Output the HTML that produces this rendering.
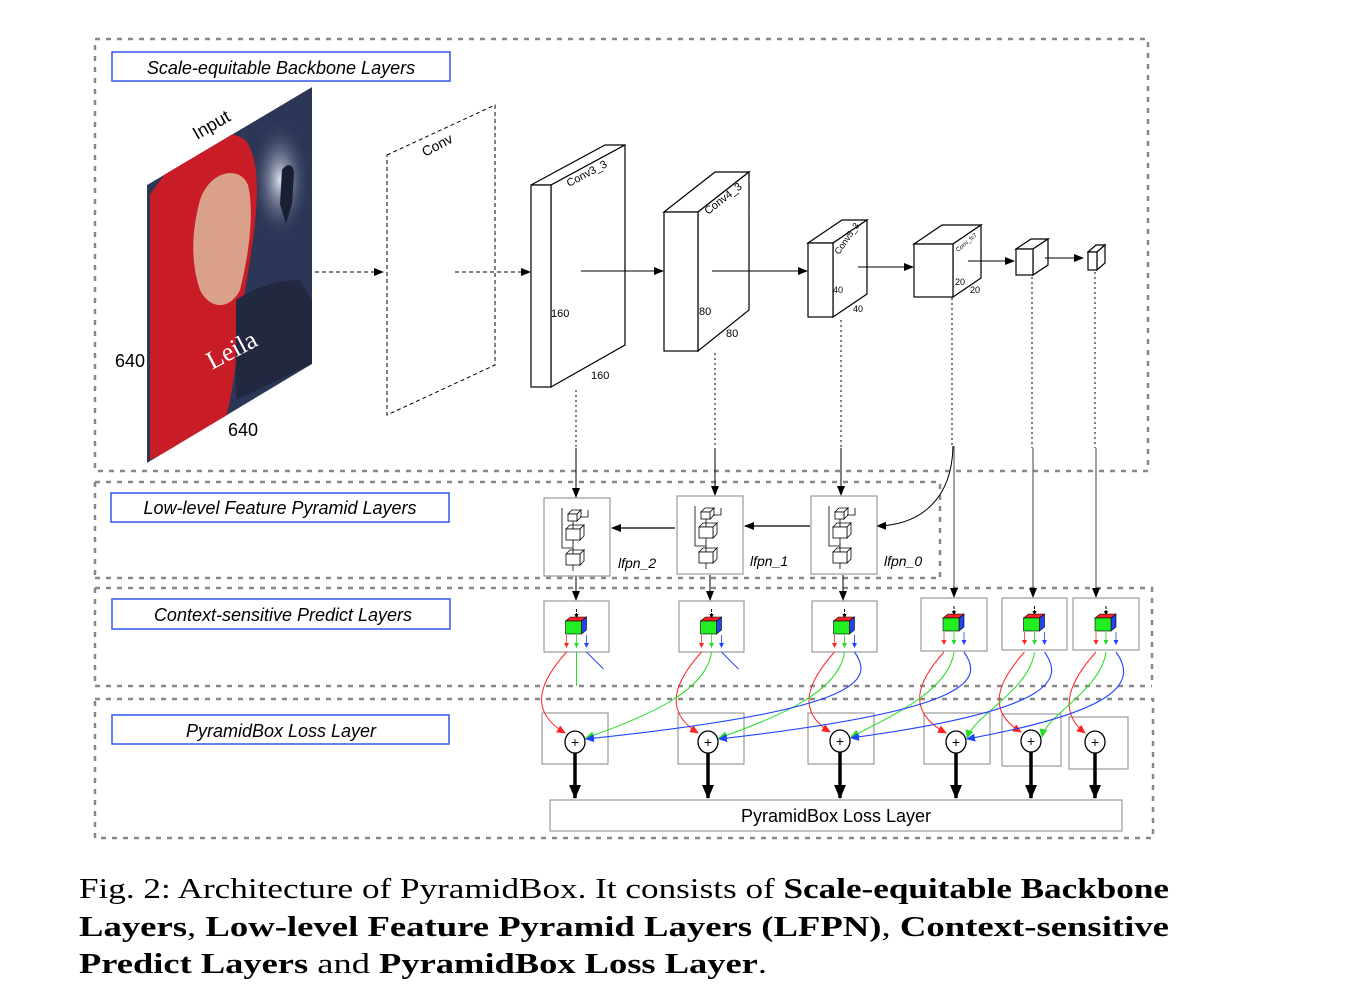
<!DOCTYPE html>
<html><head><meta charset="utf-8"><style>
html,body{margin:0;padding:0;background:#fff;}
svg{display:block}
</style></head><body>
<svg id="s" width="1356" height="996" viewBox="0 0 1356 996" xmlns="http://www.w3.org/2000/svg" font-family="Liberation Sans, sans-serif">
<defs>
<clipPath id="pc"><polygon points="147,185 312,87 312,364 147,463"/></clipPath>
<marker id="a" markerWidth="10" markerHeight="8" refX="9" refY="4" orient="auto" markerUnits="userSpaceOnUse"><path d="M0,0 L10,4 L0,8z" fill="#000"/></marker>
<marker id="ab" markerWidth="14" markerHeight="12" refX="13" refY="6" orient="auto" markerUnits="userSpaceOnUse"><path d="M0,0 L14,6 L0,12z" fill="#000"/></marker>
<marker id="as" markerWidth="5" markerHeight="4" refX="4" refY="2" orient="auto" markerUnits="userSpaceOnUse"><path d="M0,0 L5,2 L0,4z" fill="#000"/></marker>
<marker id="ar" markerWidth="9" markerHeight="8" refX="8" refY="4" orient="auto" markerUnits="userSpaceOnUse"><path d="M0,0 L9,4 L0,8z" fill="#f22"/></marker>
<marker id="ag" markerWidth="9" markerHeight="8" refX="8" refY="4" orient="auto" markerUnits="userSpaceOnUse"><path d="M0,0 L9,4 L0,8z" fill="#2d2"/></marker>
<marker id="abl" markerWidth="9" markerHeight="8" refX="8" refY="4" orient="auto" markerUnits="userSpaceOnUse"><path d="M0,0 L9,4 L0,8z" fill="#24f"/></marker>
<marker id="sr" markerWidth="5" markerHeight="5" refX="4" refY="2.5" orient="auto" markerUnits="userSpaceOnUse"><path d="M0,0 L5,2.5 L0,5z" fill="#f22"/></marker>
<marker id="sg" markerWidth="5" markerHeight="5" refX="4" refY="2.5" orient="auto" markerUnits="userSpaceOnUse"><path d="M0,0 L5,2.5 L0,5z" fill="#2d2"/></marker>
<marker id="sb" markerWidth="5" markerHeight="5" refX="4" refY="2.5" orient="auto" markerUnits="userSpaceOnUse"><path d="M0,0 L5,2.5 L0,5z" fill="#24f"/></marker>
<radialGradient id="lt" cx="0.5" cy="0.5" r="0.5"><stop offset="0" stop-color="#dde4f0"/><stop offset="1" stop-color="#2c3656" stop-opacity="0"/></radialGradient>
</defs>
<rect width="1356" height="996" fill="#fff"/>
<g stroke="#888" stroke-width="2.5" stroke-dasharray="5,6" fill="none">
<path d="M95,39 H1148 V471 H95 Z"/>
<path d="M95,482 V578 M95,482 H940 V578"/>
<path d="M95,578 H940 M95,588 H1152 V686 M95,588 V686"/>
<path d="M95,686 H1152 M95,699 H1153 V838 H95 V699"/>
</g>
<g fill="#fff" stroke="#3355ee" stroke-width="1.5">
<rect x="112" y="52" width="338" height="29"/>
<rect x="111" y="493" width="338" height="29"/>
<rect x="112" y="599" width="338" height="30"/>
<rect x="112" y="715" width="337" height="29"/>
</g>
<g font-style="italic" font-size="18" text-anchor="middle" fill="#000">
<text x="281" y="74">Scale-equitable Backbone Layers</text>
<text x="280" y="514">Low-level Feature Pyramid Layers</text>
<text x="283" y="621">Context-sensitive Predict Layers</text>
<text x="281" y="737">PyramidBox Loss Layer</text>
</g>
<g clip-path="url(#pc)">
<polygon points="147,185 312,87 312,364 147,463" fill="#2c3656"/>
<ellipse cx="280" cy="180" rx="30" ry="60" fill="url(#lt)"/>
<path d="M282,170 c5,-8 12,-6 12,4 l-2,30 l-6,20 l-6,-20z" fill="#1a1f33"/>
<path d="M150,195 C180,150 215,120 245,140 C262,160 258,210 250,260 C245,290 240,320 236,360 C232,400 225,420 222,430 L170,450 L150,460 Z" fill="#c81c26"/>
<path d="M200,200 C210,170 240,165 248,185 C254,210 250,250 240,290 C230,310 210,310 200,290 C190,260 192,230 200,200Z" fill="#d9a18a"/>
<path d="M236,300 C250,290 275,280 300,280 L312,300 L312,364 L236,400Z" fill="#22283f"/>
<text x="0" y="0" transform="translate(212,370) rotate(-28)" font-family="Liberation Serif, serif" font-size="26" fill="#fff">Leila</text>
</g>
<text x="0" y="0" transform="translate(197,140) rotate(-30)" font-size="18">Input</text>
<text x="115" y="367" font-size="18">640</text>
<text x="228" y="436" font-size="18">640</text>
<polygon points="387,155 495,105 495,365 387,415" fill="none" stroke="#000" stroke-dasharray="4,3"/>
<text transform="translate(425,157) rotate(-28)" font-size="14">Conv</text>
<g fill="#fff" stroke="#000" stroke-width="1.2">
<polygon points="531,185 605,145 625,145 551,185"/><polygon points="551,185 625,145 625,345 551,387"/><rect x="531" y="185" width="20" height="202"/>
<polygon points="664,212 715,172 749,172 698,212"/><polygon points="698,212 749,172 749,310 698,351"/><rect x="664" y="212" width="34" height="139"/>
<polygon points="808,243 842,220 867,220 833,243"/><polygon points="833,243 867,220 867,294 833,317"/><rect x="808" y="243" width="25" height="74"/>
<polygon points="914,244 942,225 981,225 953,244"/><polygon points="953,244 981,225 981,278 953,297"/><rect x="914" y="244" width="39" height="53"/>
<polygon points="1016,249 1031,239 1048,239 1033,249"/><polygon points="1033,249 1048,239 1048,265 1033,275"/><rect x="1016" y="249" width="17" height="26"/>
<polygon points="1088,252 1096,245 1105,245 1097,252"/><polygon points="1097,252 1105,245 1105,263 1097,270"/><rect x="1088" y="252" width="9" height="18"/>
</g>
<g font-size="11">
<text transform="translate(569,187) rotate(-28)">Conv3_3</text>
<text transform="translate(708,215) rotate(-38)">Conv4_3</text>
<text transform="translate(839,255) rotate(-55)" font-size="9">Conv5_3</text>
<text transform="translate(958,252) rotate(-40)" font-size="6">Conv_fc7</text>
<text x="551" y="317">160</text><text x="591" y="379">160</text>
<text x="699" y="315">80</text><text x="726" y="337">80</text>
<text x="833" y="293" font-size="9">40</text><text x="853" y="312" font-size="9">40</text>
<text x="955" y="285" font-size="9">20</text><text x="970" y="293" font-size="9">20</text>
</g>
<g stroke="#000" stroke-width="1" fill="none">
<path d="M315,272 H383" stroke-dasharray="4,3" marker-end="url(#a)"/>
<path d="M455,272 H530" stroke-dasharray="4,3" marker-end="url(#a)"/>
<path d="M581,271 H663" marker-end="url(#a)"/>
<path d="M712,271 H807" marker-end="url(#a)"/>
<path d="M858,267 H913" marker-end="url(#a)"/>
<path d="M968,261 H1014" marker-end="url(#a)"/>
<path d="M1045,258 H1083" marker-end="url(#a)"/>
</g>
<g stroke="#000" stroke-width="1" fill="none">
<path d="M576,390 V448" stroke-dasharray="2,3"/><path d="M576,448 V497" marker-end="url(#a)"/>
<path d="M715,353 V448" stroke-dasharray="2,3"/><path d="M715,448 V495" marker-end="url(#a)"/>
<path d="M841,320 V448" stroke-dasharray="2,3"/><path d="M841,448 V495" marker-end="url(#a)"/>
<path d="M952,298 V446" stroke-dasharray="2,3"/><path d="M953,446 C952,500 920,525 877,526" marker-end="url(#a)"/>
<path d="M954,446 V597" stroke="#444" marker-end="url(#a)"/>
<path d="M1032,277 V448" stroke-dasharray="2,3"/><path d="M1033,448 V597" stroke="#444" marker-end="url(#a)"/>
<path d="M1095,272 V448" stroke-dasharray="2,3"/><path d="M1096,448 V597" stroke="#444" marker-end="url(#a)"/>
<path d="M675,528 H612" stroke-width="1.3" marker-end="url(#a)"/>
<path d="M810,526 H745" stroke-width="1.3" marker-end="url(#a)"/>
<path d="M576,576 V600" marker-end="url(#a)"/>
<path d="M710,575 V600" marker-end="url(#a)"/>
<path d="M843,575 V600" marker-end="url(#a)"/>
</g>
<g id="lf"></g>
<g font-style="italic" font-size="14">
<text x="618" y="568">lfpn_2</text><text x="750" y="566">lfpn_1</text><text x="884" y="566">lfpn_0</text>
</g>
<g id="pr"></g>
<g id="cv"></g>
<rect x="550" y="800" width="572" height="31" fill="#fff" stroke="#999" stroke-width="1.2"/>
<text x="836" y="822" font-size="18" text-anchor="middle">PyramidBox Loss Layer</text>
<g font-family="Liberation Serif, serif" font-size="29" fill="#000">
<text x="79" y="898" textLength="1090" lengthAdjust="spacingAndGlyphs">Fig. 2: Architecture of PyramidBox. It consists of <tspan font-weight="bold">Scale-equitable Backbone</tspan></text>
<text x="79" y="936" textLength="1090" lengthAdjust="spacingAndGlyphs" font-weight="bold">Layers<tspan font-weight="normal">, </tspan>Low-level Feature Pyramid Layers (LFPN)<tspan font-weight="normal">, </tspan>Context-sensitive</text>
<text x="79" y="973" textLength="688" lengthAdjust="spacingAndGlyphs"><tspan font-weight="bold">Predict Layers</tspan> and <tspan font-weight="bold">PyramidBox Loss Layer</tspan>.</text>
</g>
</svg>
<script>
var NS="http://www.w3.org/2000/svg";
function el(p,t,a){var e=document.createElementNS(NS,t);for(var k in a)e.setAttribute(k,a[k]);p.appendChild(e);return e;}
var lf=document.getElementById('lf');
[[544,498],[677,496],[811,496]].forEach(function(b){
 var x=b[0],y=b[1];
 el(lf,'rect',{x:x,y:y,width:66,height:78,fill:'#fff',stroke:'#999','stroke-width':1.2});
 var cx=x+32;
 var g=el(lf,'g',{fill:'#fff',stroke:'#000','stroke-width':0.8});
 function cube(x0,y0,w,h){el(g,'polygon',{points:[x0,y0,x0+4,y0-4,x0+w+4,y0-4,x0+w,y0].join(' ')});el(g,'polygon',{points:[x0+w,y0,x0+w+4,y0-4,x0+w+4,y0+h-4,x0+w,y0+h].join(' ')});el(g,'rect',{x:x0,y:y0,width:w,height:h});}
 cube(cx-8,y+16,9,7);cube(cx-10,y+31,14,11);cube(cx-10,y+56,14,11);
 el(g,'path',{d:'M'+(cx-14)+','+(y+10)+' V'+(y+50)+' H'+(cx-3)+' M'+(cx+12)+','+(y+12)+' V'+(y+19)+' H'+(cx+4)+' M'+(cx-3)+','+(y+23)+' V'+(y+31)+' M'+(cx-3)+','+(y+42)+' V'+(y+56)+' M'+(cx-3)+','+(y+67)+' V'+(y+73),fill:'none'});
});
var pr=document.getElementById('pr');
var boxes=[[544,601,65,51],[679,601,65,51],[812,601,65,51],[921,598,66,53],[1002,598,65,52],[1073,598,66,52]];
var bx=[],circ=[[575,742],[708,742],[840,741],[956,742],[1031,741],[1095,742]];
var sums=[[542,713,66,51],[678,713,66,51],[808,713,66,51],[924,713,66,51],[1002,714,59,52],[1069,717,59,52]];
boxes.forEach(function(b){
 el(pr,'rect',{x:b[0],y:b[1],width:b[2],height:b[3],fill:'#fff',stroke:'#999','stroke-width':1.2});
 var c=b[0]+b[2]/2; bx.push(c);
 var y=b[1]+18;
 el(pr,'path',{d:'M'+c+','+(b[1]+8)+' V'+(y-1),stroke:'#000','stroke-dasharray':'3,1',fill:'none','marker-end':'url(#as)'});
 el(pr,'polygon',{points:[c-11,y+2,c-6,y-2,c+10,y-2,c+5,y+2].join(' '),fill:'#f22',stroke:'#000','stroke-width':0.6});
 el(pr,'polygon',{points:[c+5,y+2,c+10,y-2,c+10,y+11,c+5,y+15].join(' '),fill:'#2244ee',stroke:'#000','stroke-width':0.6});
 el(pr,'rect',{x:c-11,y:y+2,width:16,height:13,fill:'#2e2',stroke:'#000','stroke-width':0.6});
 [['#f55',-10,'sr'],['#4d4',0,'sg'],['#46f',10,'sb']].forEach(function(a){
  el(pr,'path',{d:'M'+(c+a[1])+','+(y+16)+' V'+(y+28),stroke:a[0],'stroke-width':1,fill:'none','marker-end':'url(#'+a[2]+')'});
 });
});
var cv=document.getElementById('cv');
sums.forEach(function(s){
 el(cv,'rect',{x:s[0],y:s[1],width:s[2],height:s[3],fill:'none',stroke:'#999','stroke-width':1.2});
});
for(var i=0;i<6;i++){
 var c=bx[i];
 var ci=circ[i];
 el(cv,'path',{d:'M'+(c-10)+',652 C'+(c-35)+',680 '+(c-50)+',710 '+(ci[0]-10)+','+(ci[1]-9),stroke:'#f22','stroke-width':1,fill:'none','marker-end':'url(#ar)'});
 if(i>=1){var p=circ[i-1];
  el(cv,'path',{d:'M'+c+',652 C'+(c-5)+',690 '+(c-60)+',715 '+(p[0]+11)+','+(p[1]-4),stroke:'#2d2','stroke-width':1,fill:'none','marker-end':'url(#ag)'});}
 else el(cv,'path',{d:'M'+c+',652 V686',stroke:'#2d2','stroke-width':1,fill:'none'});
 if(i>=2){var q=circ[i-2];
  el(cv,'path',{d:'M'+(c+10)+',652 C'+(c+30)+',680 '+(c+20)+',710 '+(q[0]+11)+','+(q[1]-3),stroke:'#24f','stroke-width':1.1,fill:'none','marker-end':'url(#abl)'});}
 else el(cv,'path',{d:'M'+(c+10)+',652 L'+(c+27)+',669',stroke:'#24f','stroke-width':1,fill:'none'});
}
circ.forEach(function(p){
 el(cv,'ellipse',{cx:p[0],cy:p[1],rx:10,ry:11,fill:'#fff',stroke:'#000','stroke-width':1.3});
 var t=el(cv,'text',{x:p[0],y:p[1]+5,'text-anchor':'middle','font-size':14});t.textContent='+';
 el(cv,'path',{d:'M'+p[0]+','+(p[1]+11)+' V798',stroke:'#000','stroke-width':3.5,fill:'none','marker-end':'url(#ab)'});
});
</script>
</body></html>
